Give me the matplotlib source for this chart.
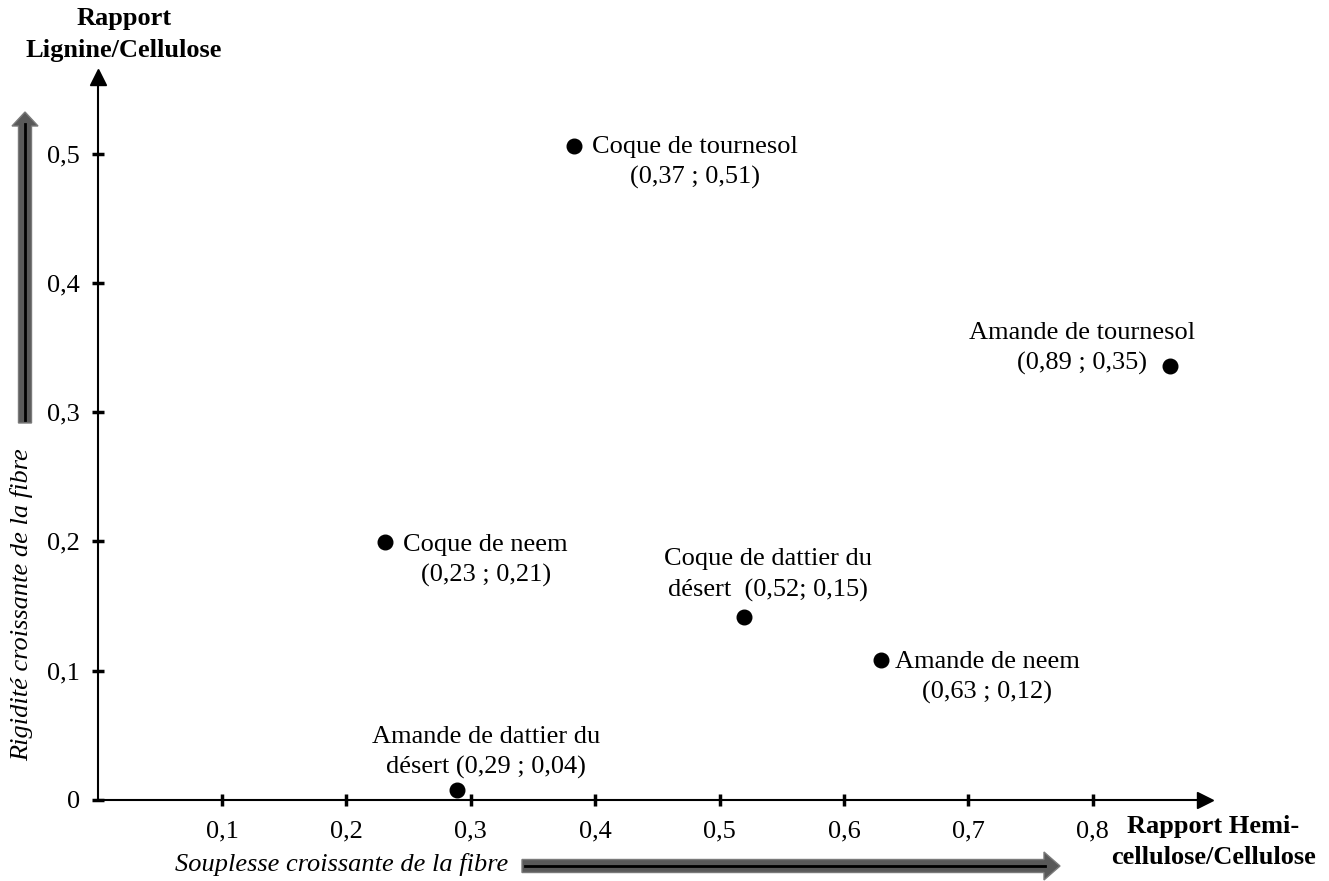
import matplotlib
matplotlib.use('Agg')
from matplotlib import pyplot as plt
from matplotlib.patches import FancyArrow

# points as placed on the chart (hemicellulose/cellulose, lignine/cellulose)
names = ['Coque de tournesol', 'Amande de tournesol', 'Coque de neem',
         'Coque de dattier du', 'Amande de neem', 'Amande de dattier du']
coords = ['(0,37 ; 0,51)', '(0,89 ; 0,35)', '(0,23 ; 0,21)',
          'désert  (0,52; 0,15)', '(0,63 ; 0,12)', 'désert (0,29 ; 0,04)']
x_vals = [0.383, 0.862, 0.231, 0.520, 0.630, 0.289]
y_vals = [0.506, 0.336, 0.1995, 0.1415, 0.108, 0.0077]

x_ticks = [0.1, 0.2, 0.3, 0.4, 0.5, 0.6, 0.7, 0.8]
x_tick_labels = ['0,1', '0,2', '0,3', '0,4', '0,5', '0,6', '0,7', '0,8']
y_ticks = [0, 0.1, 0.2, 0.3, 0.4, 0.5]
y_tick_labels = ['0', '0,1', '0,2', '0,3', '0,4', '0,5']

# label block centres (data coords)
label_pos = [(0.480, 0.493), (0.791, 0.349), (0.312, 0.185),
             (0.539, 0.174), (0.715, 0.0947), (0.312, 0.0367)]

plt.rcParams['font.family'] = ['Liberation Serif', 'DejaVu Serif']
FS = 19

W, H = 1329, 881
fig = plt.figure(figsize=(W / 100, H / 100), dpi=100)

x0, y0 = 97.6, 800.0
sx, sy = 1244.0, 1293.0
xmax, ymax = 0.890, 0.559
ax = fig.add_axes([x0 / W, (H - y0) / H, xmax * sx / W, ymax * sy / H])
ax.set_xlim(0, xmax)
ax.set_ylim(0, ymax)
for s in ['top', 'right']:
    ax.spines[s].set_visible(False)
for s in ['left', 'bottom']:
    ax.spines[s].set_linewidth(1.5)
ax.set_xticks(x_ticks)
ax.set_xticklabels(x_tick_labels)
ax.set_yticks(y_ticks)
ax.set_yticklabels(y_tick_labels)
ax.tick_params(direction='inout', length=9, width=2.5, labelsize=FS, pad=8)
ax.tick_params(axis='x', pad=10)
ax.patch.set_visible(False)

# arrow heads on axes
ax.plot([0], [ymax], marker='^', ms=11, color='black', clip_on=False)
ax.plot([xmax], [0], marker='>', ms=11, color='black', clip_on=False)

ax.plot(x_vals, y_vals, 'o', color='black', ms=10.5, clip_on=False)

for name, c, (lx, ly) in zip(names, coords, label_pos):
    ax.text(lx, ly, name + '\n' + c, ha='center', va='center',
            fontsize=FS, linespacing=1.45)

# overlay in pixel coords for decorations
ov = fig.add_axes([0, 0, 1, 1])
ov.set_xlim(0, W)
ov.set_ylim(H, 0)
ov.axis('off')

ov.add_patch(FancyArrow(25, 423, 0, -311, width=13, head_width=26, head_length=14,
                        length_includes_head=True, fc='#595959', ec='#7a7a7a', lw=1))
ov.plot([25, 25], [420, 124], color='black', lw=2)
ov.add_patch(FancyArrow(522, 866, 538, 0, width=13, head_width=28, head_length=16,
                        length_includes_head=True, fc='#595959', ec='#7a7a7a', lw=1))
ov.plot([525, 1045], [866, 866], color='black', lw=2)

ov.text(124, 35, 'Rapport\nLignine/Cellulose', ha='center', va='center',
        fontsize=FS, fontweight='bold', linespacing=1.5)
ov.text(1213, 842, 'Rapport Hemi-\ncellulose/Cellulose', ha='center', va='center',
        fontsize=FS, fontweight='bold', linespacing=1.5)
ov.text(22, 605, 'Rigidité croissante de la fibre', rotation=90, ha='center',
        va='center', fontsize=FS, style='italic')
ov.text(508, 864, 'Souplesse croissante de la fibre', ha='right', va='center',
        fontsize=FS, style='italic')

fig.savefig('out.png', dpi=100)
